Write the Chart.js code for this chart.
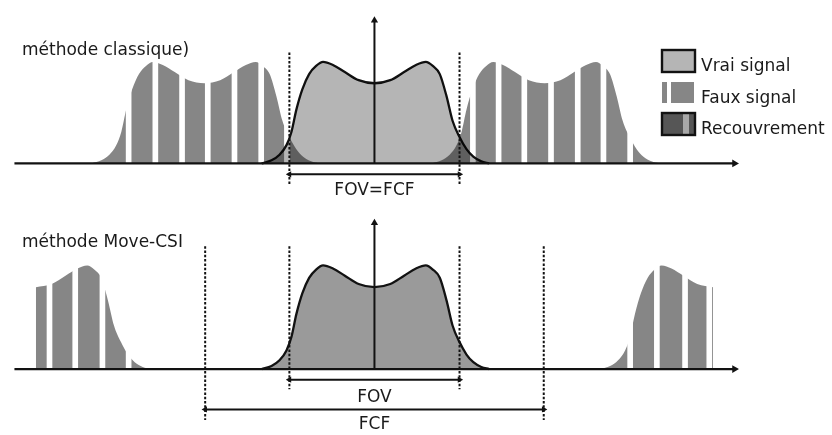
<!DOCTYPE html>
<html><head><meta charset="utf-8">
<script src="https://cdn.jsdelivr.net/npm/chart.js@4/dist/chart.umd.min.js"></script>
<style>
html,body{margin:0;padding:0;background:#fff;}
#wrap{position:relative;width:832px;height:435px;overflow:hidden;}
canvas{position:absolute;left:0;}
</style></head><body>
<div id="wrap">
<canvas id="top" width="832" height="210" style="top:0"></canvas>
<canvas id="bot" width="832" height="225" style="top:210px"></canvas>
</div>
<script>
// ---- data (x in FOV units, centre = 0 ; y = normalised signal amplitude) ----
const signalX = [-0.663, -0.605, -0.558, -0.517, -0.488, -0.459, -0.424, -0.384, -0.343, -0.302, -0.244, -0.174, -0.093, 0,
                 0.093, 0.174, 0.244, 0.302, 0.343, 0.384, 0.424, 0.459, 0.5, 0.541, 0.581, 0.628, 0.674];
const signalY = [0, 0.03, 0.085, 0.18, 0.31, 0.53, 0.73, 0.88, 0.96, 1.0, 0.97, 0.9, 0.82, 0.79,
                 0.82, 0.9, 0.97, 1.0, 0.96, 0.88, 0.66, 0.42, 0.26, 0.14, 0.066, 0.02, 0];
const fovWidth = 1;          // field of view
const fcfClassic = 1;        // FCF = FOV (classic method)
const fcfMoveCSI = 1.99;     // FCF (Move-CSI)
const stripesClassic = [-1.4448, -1.2878, -1.1308, -0.9797, -0.8227, -0.6657, -0.5145,
                        0.5785, 0.7297, 0.8808, 1.0378, 1.1948, 1.3459, 1.5029];
const stripesMoveCSI = [-1.9099, -1.7587, -1.5988, -1.4448, 1.5029, 1.6599, 1.8256, 1.968];
const panelTitles = ['méthode classique)', 'méthode Move-CSI'];
const bracketLabels = ['FOV=FCF', 'FOV', 'FCF'];
const legendLabels = ['Vrai signal', 'Faux signal', 'Recouvrement'];

// ---- styles ----
const FONT = '17px "DejaVu Sans", "Liberation Sans", sans-serif';
const TXT = '#1a1a1a';
const INK = '#121212';
const TRUE_TOP = '#b5b5b5';
const TRUE_BOT = '#9a9a9a';
const FAUX = '#868686';
const X_MIN = -374 / 172, X_MAX = 458 / 172;

function copy(shift, keep) {
  const out = [];
  signalX.forEach((x, i) => { if (keep(x)) out.push({x: x + shift, y: signalY[i]}); });
  return out;
}
function fauxDs(data, color) {
  return {type: 'line', label: 'faux', data, fill: 'origin', backgroundColor: color, borderWidth: 0,
          pointRadius: 0, cubicInterpolationMode: 'monotone', order: 50};
}
function stripeDs(xs, h) {
  return {type: 'bar', label: 'stripes', data: xs.map(x => ({x, y: [0, h]})), backgroundColor: '#ffffff',
          borderWidth: 0, barThickness: 5, order: 40};
}
function vraiDs(color) {
  return {type: 'line', label: 'vrai', data: signalX.map((x, i) => ({x, y: signalY[i]})), fill: 'origin',
          backgroundColor: color, borderColor: INK, borderWidth: 2.3, pointRadius: 0,
          cubicInterpolationMode: 'monotone', order: 30};
}
function dotted(x, y0, y1) {
  return {type: 'line', label: 'dot', data: [{x, y: y0}, {x, y: y1}], borderColor: INK, borderWidth: 2,
          borderDash: [2.5, 1.8], pointRadius: 0, fill: false, order: 20};
}
function bracket(x0, x1, y) {
  return {type: 'line', label: 'bracket', data: [{x: x0, y}, {x: x1, y}], borderColor: INK, borderWidth: 2,
          pointRadius: 3.6, pointStyle: 'triangle', pointRotation: [-90, 90], pointBackgroundColor: INK,
          pointBorderWidth: 0, fill: false, order: 10};
}
function axes(yTop) {
  return [
    {type: 'line', label: 'axis', data: [{x: -2.116, y: 0}, {x: 2.116, y: 0}], borderColor: INK, borderWidth: 2.2,
     pointRadius: [0, 4.5], pointStyle: 'triangle', pointRotation: [0, 90], pointBackgroundColor: INK,
     pointBorderWidth: 0, fill: false, order: 5},
    {type: 'line', label: 'axis', data: [{x: 0, y: 0}, {x: 0, y: yTop}], borderColor: INK, borderWidth: 2,
     pointRadius: [0, 4.2], pointStyle: 'triangle', pointRotation: [0, 0], pointBackgroundColor: INK,
     pointBorderWidth: 0, fill: false, order: 5}
  ];
}
function options(yMin, yMax) {
  return {
    responsive: false, animation: false, devicePixelRatio: 1, events: [],
    layout: {padding: 0},
    plugins: {legend: {display: false}, tooltip: {enabled: false}},
    scales: {
      x: {type: 'linear', min: X_MIN, max: X_MAX, display: false, offset: false},
      y: {type: 'linear', min: yMin, max: yMax, display: false}
    }
  };
}

// multiply blending so that true signal over false signal gives the darker overlap
const blendPlugin = {
  id: 'blend',
  afterDatasetDraw(chart, args) {
    const ds = chart.data.datasets[args.index];
    if (ds.label === 'stripes' && chart.canvas.id === 'top') chart.ctx.globalCompositeOperation = 'multiply';
    if (ds.label === 'vrai') chart.ctx.globalCompositeOperation = 'source-over';
  }
};

function textPlugin(items, legend) {
  return {
    id: 'texts',
    afterDraw(chart) {
      const ctx = chart.ctx, xs = chart.scales.x, ys = chart.scales.y;
      ctx.save();
      ctx.font = FONT; ctx.fillStyle = TXT; ctx.textBaseline = 'alphabetic';
      items.forEach(it => {
        ctx.textAlign = it.align;
        const px = it.px !== undefined ? it.px : xs.getPixelForValue(it.x);
        ctx.fillText(it.text, px, ys.getPixelForValue(it.y));
      });
      if (legend) {
        ctx.lineWidth = 2.4; ctx.strokeStyle = INK;
        ctx.fillStyle = TRUE_TOP; ctx.fillRect(662, 50, 33, 22); ctx.strokeRect(662, 50, 33, 22);
        ctx.fillStyle = FAUX; ctx.fillRect(662, 82, 5, 21); ctx.fillRect(671, 82, 23, 21);
        ctx.fillStyle = '#565656'; ctx.fillRect(662, 113, 33, 22);
        ctx.fillStyle = '#a8a8a8'; ctx.fillRect(683, 113, 6, 22);
        ctx.strokeRect(662, 113, 33, 22);
        ctx.fillStyle = TXT; ctx.textAlign = 'left';
        ctx.fillText(legendLabels[0], 701, 71);
        ctx.fillText(legendLabels[1], 701, 103);
        ctx.fillText(legendLabels[2], 701, 134);
      }
      ctx.restore();
    }
  };
}

// ---- top panel: classic method (1 unit y = 106 px, baseline at 166 px) ----
const topMin = -44 / 106, topMax = 166 / 106;
new Chart(document.getElementById('top'), {
  type: 'line',
  data: {datasets: [
    fauxDs(copy(-fcfClassic, () => true), FAUX),
    fauxDs(copy(fcfClassic, () => true), FAUX),
    stripeDs(stripesClassic, 1.08),
    vraiDs(TRUE_TOP),
    dotted(-fovWidth / 2, 1.094, -0.217),
    dotted(fovWidth / 2, 1.094, -0.217),
    bracket(-fovWidth / 2, fovWidth / 2, -0.108),
    ...axes(1.41)
  ]},
  options: options(topMin, topMax),
  plugins: [blendPlugin, textPlugin([
    {text: panelTitles[0], px: 22, y: 113 / 106, align: 'left'},
    {text: bracketLabels[0], x: 0, y: -33 / 106, align: 'center'}
  ], true)]
});

// ---- bottom panel: Move-CSI (1 unit y = 108 px, baseline at 161 px of this canvas) ----
const botMin = -64 / 108, botMax = 161 / 108;
new Chart(document.getElementById('bot'), {
  type: 'line',
  data: {datasets: [
    fauxDs(copy(-fcfMoveCSI, x => x >= 0), FAUX),
    fauxDs(copy(fcfMoveCSI, x => x <= 0), FAUX),
    stripeDs(stripesMoveCSI, 1.08),
    vraiDs(TRUE_BOT),
    dotted(-fovWidth / 2, 1.185, -0.194),
    dotted(fovWidth / 2, 1.185, -0.194),
    dotted(-fcfMoveCSI / 2, 1.185, -0.491),
    dotted(fcfMoveCSI / 2, 1.185, -0.491),
    bracket(-fovWidth / 2, fovWidth / 2, -0.102),
    bracket(-fcfMoveCSI / 2, fcfMoveCSI / 2, -0.389),
    ...axes(1.41)
  ]},
  options: options(botMin, botMax),
  plugins: [blendPlugin, textPlugin([
    {text: panelTitles[1], px: 22, y: 127 / 108, align: 'left'},
    {text: bracketLabels[1], x: 0, y: -34 / 108, align: 'center'},
    {text: bracketLabels[2], x: 0, y: -62 / 108, align: 'center'}
  ], false)]
});
</script>
</body></html>
